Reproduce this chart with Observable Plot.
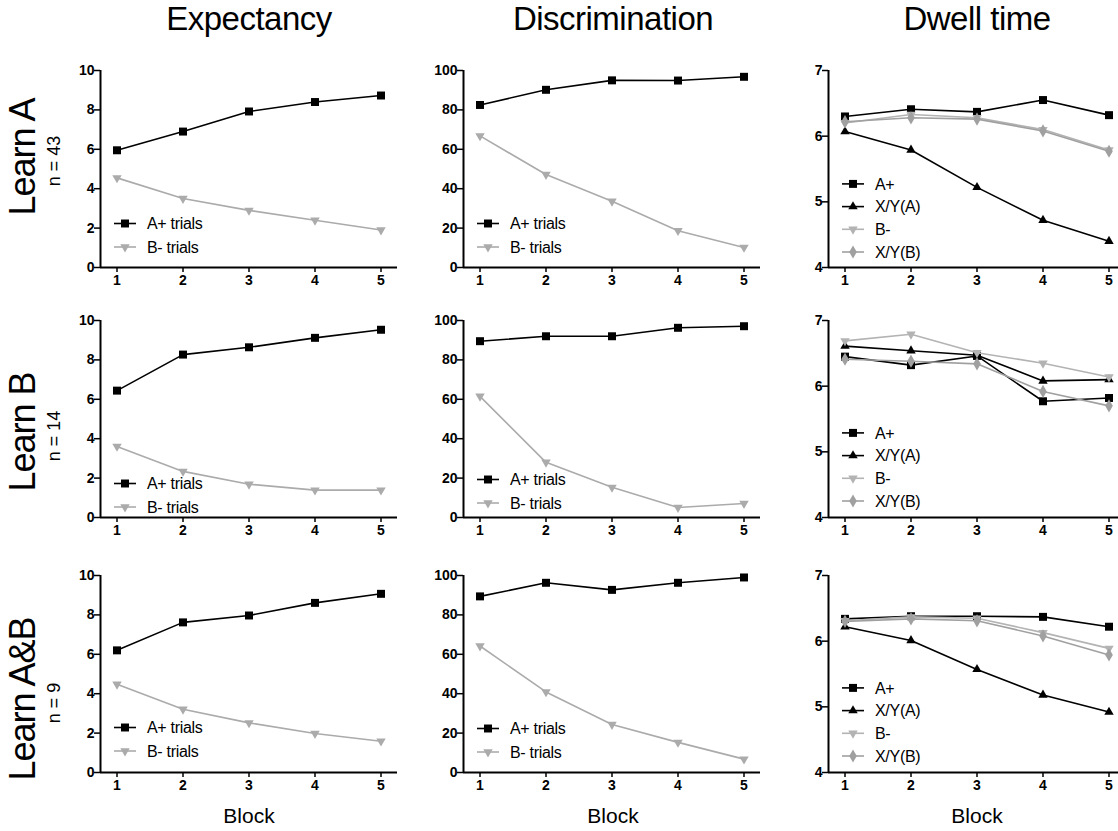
<!DOCTYPE html>
<html><head><meta charset="utf-8">
<script src="https://cdn.jsdelivr.net/npm/d3@7"></script>
<script src="https://cdn.jsdelivr.net/npm/@observablehq/plot@0.6"></script>
<style>
body{margin:0;width:1118px;height:831px;overflow:hidden;background:#fff;font-family:"Liberation Sans",Arial,sans-serif;}
#root{position:relative;width:1118px;height:831px;overflow:hidden;}
#root > svg, #root > .panel{position:absolute;}
</style></head><body><div id="root"></div>
<script>
// ---------- data ----------
const blocks = [1, 2, 3, 4, 5];
const columnTitles = ["Expectancy", "Discrimination", "Dwell time"];
const rowLabels = ["Learn A", "Learn B", "Learn A&B"];
const rowN = ["n = 43", "n = 14", "n = 9"];
const xLabel = "Block";
const expTicks = [0, 2, 4, 6, 8, 10];
const discTicks = [0, 20, 40, 60, 80, 100];
const dwellTicks = [4, 5, 6, 7];
const twoSeries = ["A+ trials", "B- trials"];
const fourSeries = ["A+", "X/Y(A)", "B-", "X/Y(B)"];

const expA_Aplus = [5.95, 6.9, 7.92, 8.4, 8.73];
const expA_Bminus = [4.55, 3.5, 2.9, 2.4, 1.9];
const discA_Aplus = [82.5, 90.2, 95.0, 94.9, 96.8];
const discA_Bminus = [66.8, 47.2, 33.6, 18.7, 10.2];
const dwellA_Aplus = [6.3, 6.41, 6.37, 6.55, 6.32];
const dwellA_XYA = [6.07, 5.79, 5.22, 4.72, 4.40];
const dwellA_Bminus = [6.2, 6.33, 6.28, 6.1, 5.79];
const dwellA_XYB = [6.22, 6.28, 6.26, 6.08, 5.77];

const expB_Aplus = [6.44, 8.27, 8.64, 9.12, 9.53];
const expB_Bminus = [3.61, 2.34, 1.69, 1.39, 1.39];
const discB_Aplus = [89.5, 92.0, 92.0, 96.3, 97.1];
const discB_Bminus = [61.5, 28.0, 15.3, 5.1, 7.1];
const dwellB_Aplus = [6.45, 6.32, 6.46, 5.77, 5.82];
const dwellB_XYA = [6.61, 6.54, 6.47, 6.08, 6.10];
const dwellB_Bminus = [6.69, 6.79, 6.51, 6.35, 6.14];
const dwellB_XYB = [6.41, 6.38, 6.34, 5.92, 5.70];

const expAB_Aplus = [6.2, 7.62, 7.97, 8.61, 9.07];
const expAB_Bminus = [4.48, 3.21, 2.52, 1.98, 1.59];
const discAB_Aplus = [89.4, 96.3, 92.7, 96.3, 99.0];
const discAB_Bminus = [64.2, 40.9, 24.4, 15.3, 6.8];
const dwellAB_Aplus = [6.34, 6.38, 6.38, 6.37, 6.22];
const dwellAB_XYA = [6.22, 6.01, 5.57, 5.18, 4.92];
const dwellAB_Bminus = [6.31, 6.37, 6.35, 6.13, 5.89];
const dwellAB_XYB = [6.30, 6.34, 6.31, 6.08, 5.79];

// ---------- styles / layout ----------
const triDown = {
  draw(ctx, size) {
    const s3 = Math.sqrt(3);
    const y = -Math.sqrt(size / (s3 * 3));
    ctx.moveTo(0, -y * 2);
    ctx.lineTo(-s3 * y, y);
    ctx.lineTo(s3 * y, y);
    ctx.closePath();
  }
};
const styles = {
  "A+ trials": {color: "#000", symbol: d3.symbolSquare, r: 4.5},
  "B- trials": {color: "#ababab", symbol: triDown, r: 3.5},
  "A+": {color: "#000", symbol: d3.symbolSquare, r: 4.5},
  "X/Y(A)": {color: "#000", symbol: d3.symbolTriangle, r: 3.5},
  "B-": {color: "#b3b3b3", symbol: triDown, r: 3.5},
  "X/Y(B)": {color: "#a0a0a0", symbol: d3.symbolDiamond, r: 4}
};

const W = 339, H = 235, ML = 40, MR = 2, MT = 8, MB = 30;
const xDomain = [0.75, 5.25];
const colLeft = [60, 423, 788];
const rowTop = [62, 312, 567];
const titleX = [249, 613, 977];
const rowLabelY = [157, 432, 699];

const panels = [
  {row: 0, col: 0, ticks: expTicks, names: twoSeries, values: [expA_Aplus, expA_Bminus], leg: 20},
  {row: 0, col: 1, ticks: discTicks, names: twoSeries, values: [discA_Aplus, discA_Bminus], leg: 20},
  {row: 0, col: 2, ticks: dwellTicks, names: fourSeries, values: [dwellA_Aplus, dwellA_XYA, dwellA_Bminus, dwellA_XYB], leg: 15},
  {row: 1, col: 0, ticks: expTicks, names: twoSeries, values: [expB_Aplus, expB_Bminus], leg: 10},
  {row: 1, col: 1, ticks: discTicks, names: twoSeries, values: [discB_Aplus, discB_Bminus], leg: 14},
  {row: 1, col: 2, ticks: dwellTicks, names: fourSeries, values: [dwellB_Aplus, dwellB_XYA, dwellB_Bminus, dwellB_XYB], leg: 16},
  {row: 2, col: 0, ticks: expTicks, names: twoSeries, values: [expAB_Aplus, expAB_Bminus], leg: 21},
  {row: 2, col: 1, ticks: discTicks, names: twoSeries, values: [discAB_Aplus, discAB_Bminus], leg: 20},
  {row: 2, col: 2, ticks: dwellTicks, names: fourSeries, values: [dwellAB_Aplus, dwellAB_XYA, dwellAB_Bminus, dwellAB_XYB], leg: 16}
];

const root = document.getElementById("root");
const font = "'Liberation Sans', Arial, sans-serif";

for (const p of panels) {
  const yDomain = [p.ticks[0], p.ticks[p.ticks.length - 1]];
  const marks = [
    Plot.ruleX([xDomain[0]], {y1: yDomain[0], y2: yDomain[1], stroke: "#000", strokeWidth: 2}),
    Plot.ruleY([yDomain[0]], {x1: xDomain[0], x2: xDomain[1], stroke: "#000", strokeWidth: 2}),
    Plot.axisX({ticks: blocks, tickSize: 5, tickPadding: 3, fontSize: 14, fontWeight: "bold", label: null, strokeWidth: 1.5, tickFormat: d3.format("d")}),
    Plot.axisY({ticks: p.ticks, tickSize: 6, tickPadding: 0, fontSize: 14, fontWeight: "bold", letterSpacing: -0.6, label: null, strokeWidth: 1.5, tickFormat: d3.format("d")})
  ];
  p.names.forEach((name, i) => {
    const st = styles[name];
    const data = blocks.map((b, j) => ({block: b, value: p.values[i][j]}));
    marks.push(Plot.line(data, {x: "block", y: "value", stroke: st.color, strokeWidth: 1.6}));
    marks.push(Plot.dot(data, {x: "block", y: "value", symbol: st.symbol, r: st.r, fill: st.color, stroke: "none"}));
  });
  const chart = Plot.plot({
    width: W, height: H,
    marginLeft: ML, marginRight: MR, marginTop: MT, marginBottom: MB,
    x: {domain: xDomain, axis: null},
    y: {domain: yDomain, axis: null},
    style: {fontFamily: font, color: "#000", background: "transparent", overflow: "visible"},
    marks
  });
  chart.classList.add("panel");
  chart.style.left = colLeft[p.col] + "px";
  chart.style.top = rowTop[p.row] + "px";
  root.appendChild(chart);
}

// ---------- overlay text & legends ----------
const ov = d3.select(root).append("svg")
  .attr("width", 1118).attr("height", 831)
  .style("left", "0px").style("top", "0px")
  .style("pointer-events", "none")
  .style("font-family", font);

columnTitles.forEach((t, c) => {
  ov.append("text").attr("x", titleX[c]).attr("y", 30).attr("text-anchor", "middle")
    .attr("font-size", 33).attr("letter-spacing", -0.5).text(t);
  ov.append("text").attr("x", titleX[c]).attr("y", 823).attr("text-anchor", "middle")
    .attr("font-size", 21).text(xLabel);
});
rowLabels.forEach((t, r) => {
  ov.append("text").attr("transform", `translate(35,${rowLabelY[r]}) rotate(-90)`)
    .attr("text-anchor", "middle").attr("font-size", 36).attr("letter-spacing", -1).text(t);
  ov.append("text").attr("transform", `translate(60,${rowLabelY[r] + 4}) rotate(-90)`)
    .attr("text-anchor", "middle").attr("font-size", 18).text(rowN[r]);
});

for (const p of panels) {
  const ax = colLeft[p.col] + ML;
  const yBottom = rowTop[p.row] + H - MB;
  const n = p.names.length;
  const step = n === 4 ? 22.7 : 23.5;
  p.names.forEach((name, i) => {
    const st = styles[name];
    const y = yBottom - p.leg - (n - 1 - i) * step;
    ov.append("line").attr("x1", ax + 14).attr("x2", ax + 36).attr("y1", y).attr("y2", y)
      .attr("stroke", st.color).attr("stroke-width", 1.6);
    ov.append("path").attr("transform", `translate(${ax + 25},${y})`)
      .attr("d", d3.symbol(st.symbol, st.r * st.r * Math.PI)()).attr("fill", st.color);
    ov.append("text").attr("x", ax + 47).attr("y", y).attr("dy", "0.35em")
      .attr("font-size", 16).attr("letter-spacing", -0.3).text(name);
  });
}
</script>
</body></html>
